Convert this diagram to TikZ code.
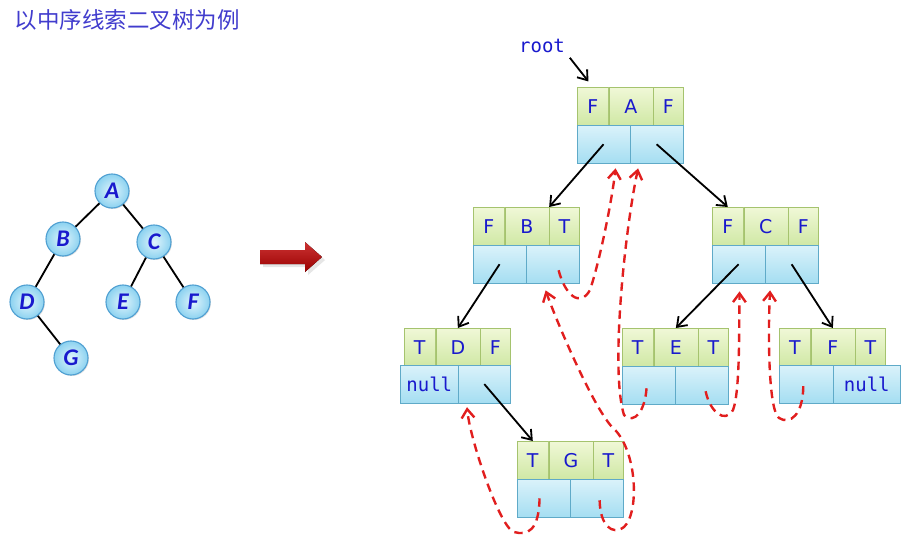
\documentclass[tikz,border=0pt]{standalone}
\usepackage{fontspec}
\usetikzlibrary{arrows.meta,shadows}
\newfontfamily\cjk{Noto Sans CJK SC}
\newfontfamily\cellfont{DejaVu Sans}
\newfontfamily\codefont{DejaVu Sans Mono}
\newfontfamily\treefont{Carlito}
\definecolor{ink}{RGB}{25,25,205}
\definecolor{titleblue}{RGB}{65,60,205}
\definecolor{gtop}{RGB}{240,248,215}
\definecolor{gbot}{RGB}{208,232,165}
\definecolor{gline}{RGB}{165,195,110}
\definecolor{btop}{RGB}{218,242,250}
\definecolor{bbot}{RGB}{165,222,242}
\definecolor{bline}{RGB}{95,170,200}
\definecolor{ctop}{RGB}{225,245,252}
\definecolor{cbot}{RGB}{140,210,240}
\definecolor{cline}{RGB}{80,160,210}
\definecolor{thr}{RGB}{225,30,30}
\tikzset{
  soft/.style={drop shadow={opacity=.25,shadow xshift=.7pt,shadow yshift=-.7pt}},
  gcell/.style={draw=gline,top color=gtop,bottom color=gbot,minimum height=.94cm,inner sep=0pt,
    text=ink,font=\cellfont\fontsize{13.5}{13.5}\selectfont,soft},
  bcell/.style={draw=bline,top color=btop,bottom color=bbot,minimum height=.94cm,minimum width=1.3125cm,
    inner sep=0pt,text=ink,font=\codefont\fontsize{13.5}{13.5}\selectfont,soft},
  tnode/.style={circle,draw=cline,line width=.8pt,inner color=ctop,outer color=cbot,minimum size=.85cm,
    inner sep=0pt,text=ink,font=\treefont\bfseries\itshape\fontsize{17}{17}\selectfont,soft},
  edge/.style={line width=1.3pt},
  ptr/.style={->,line width=1.3pt},
  thread/.style={->,draw=thr,line width=1.7pt,dash pattern=on 6pt off 4pt}
}
% tag row of one record: name, x, y (top left), left tag, data, right tag
\newcommand\record[6]{%
  \node[gcell,minimum width=.775cm,anchor=north west] (#1l) at (#2,#3) {#4};
  \node[gcell,minimum width=1.1cm,anchor=west] (#1d) at (#1l.east) {#5};
  \node[gcell,minimum width=.75cm,anchor=west] (#1r) at (#1d.east) {#6};}
% pointer row
\newcommand\links[1]{%
  \node[bcell,anchor=north west] (#1L) at (#1l.south west) {};
  \node[bcell,anchor=west] (#1R) at (#1L.east) {};}
\begin{document}
\begin{tikzpicture}[x=.025cm,y=-.025cm,>={Straight Barb[length=2.2mm,width=3.2mm]}]
\useasboundingbox (0,0) rectangle (905,541);
\node[anchor=west,text=titleblue,font=\cjk\fontsize{16}{16}\selectfont] (title) at (10,20) {以中序线索二叉树为例};
% the tree
\node[tnode] (tA) at (112,191) {A};
\node[tnode] (tB) at (63,239) {B};
\node[tnode] (tC) at (154,242) {C};
\node[tnode] (tD) at (27,302) {D};
\node[tnode] (tE) at (123,302) {E};
\node[tnode] (tF) at (193,302) {F};
\node[tnode] (tG) at (71,358) {G};
\draw[edge](tA)--(tB) (tA)--(tC) (tB)--(tD) (tC)--(tE) (tC)--(tF) (tD)--(tG);
\fill[top color=red!75!black!80,bottom color=red!60!black,drop shadow={opacity=.2}]
  (260,250)--(305,250)--(305,242)--(322,257)--(305,272)--(305,264)--(260,264)--cycle;
% threaded records
\record{A}{577}{87}{F}{A}{F}\links{A}
\record{B}{473}{207}{F}{B}{T}\links{B}
\record{C}{712}{207}{F}{C}{F}\links{C}
\record{D}{404}{328}{T}{D}{F}
\node[bcell,minimum width=1.45cm,anchor=north west] (DL) at (400,365) {null};
\node[bcell,minimum width=1.3cm,anchor=north west] (DR) at (458,365) {};
\record{E}{622}{328}{T}{E}{T}\links{E}
\record{F}{779}{328}{T}{F}{T}
\node[bcell,minimum width=1.35cm,anchor=north west] (FL) at (779,365) {};
\node[bcell,minimum width=1.675cm,anchor=north west] (FR) at (833,365) {null};
\record{G}{517}{441}{T}{G}{T}\links{G}
\node[text=ink,font=\codefont\fontsize{13.5}{13.5}\selectfont] (root) at (542,46) {root};
% child pointers
\draw[ptr,shorten >=5pt](root.south east)--(Al.north);
\draw[ptr](AL.center)--(Bd.north east);
\draw[ptr](AR.center)--(Cl.north);
\draw[ptr](BL.center)--(Dd.north);
\draw[ptr](CL.center)--(Ed.north);
\draw[ptr](CR.center)--(Fd.north);
\draw[ptr](DR.center)--(Gl.north);
% threads
\draw[thread]([shift={(-4,0)}]GL.center) .. controls (539,530) and (528,536) .. (514,532)
  .. controls (500,528) and (470,440) .. ([shift={(9,4)}]DR.south west);
\draw[thread]([shift={(3,2)}]GR.center) .. controls (600,525) and (612,536) .. (624,527)
  .. controls (640,512) and (637,448) .. (612,427) .. controls (592,405) and (556,320) .. ([shift={(-7,7)}]BR.south);
\draw[thread]([shift={(6,6)}]BR.center) .. controls (565,295) and (580,308) .. (590,290)
  .. controls (600,260) and (612,200) .. ([shift={(12,5)}]AL.south);
\draw[thread]([shift={(-2,3)}]EL.center) .. controls (645,410) and (635,425) .. (624,415)
  .. controls (610,370) and (625,230) .. ([shift={(8,5)}]AR.south west);
\draw[thread]([shift={(4,6)}]ER.center) .. controls (710,412) and (725,424) .. (733,410)
  .. controls (740,392) and (739,330) .. ([shift={(1,8)}]CL.south);
\draw[thread]([shift={(-3,2)}]FL.center) .. controls (803,415) and (790,425) .. (779,418)
  .. controls (768,410) and (768,330) .. ([shift={(5,7)}]CR.south west);
\end{tikzpicture}
\end{document}
